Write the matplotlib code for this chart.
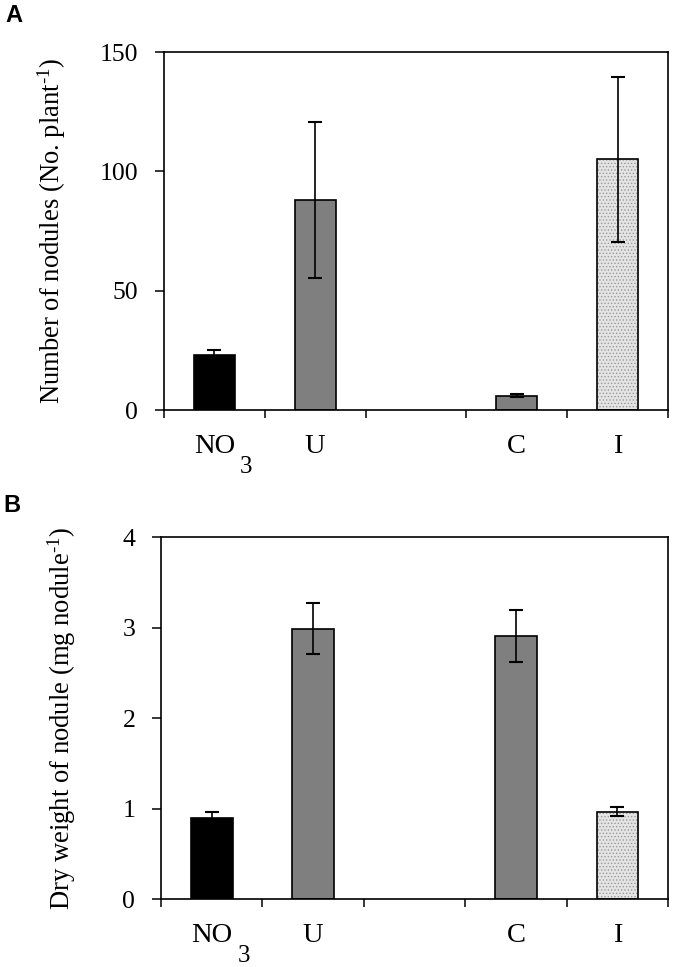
import numpy as np
import matplotlib.pyplot as plt

plt.rcParams['font.family'] = ['Liberation Serif', 'DejaVu Serif']
plt.rcParams['mathtext.fontset'] = 'custom'
plt.rcParams['mathtext.rm'] = 'Liberation Serif'
plt.rcParams['mathtext.it'] = 'Liberation Serif'
plt.rcParams['hatch.linewidth'] = 0.6

# categories (slot 3 is left empty in the original figure)
categories = ['NO', 'U', '', 'C', 'I']
subscripts = ['3', '', '', '', '']
bar_colors = ['#000000', '#7f7f7f', '#ffffff', '#7f7f7f', '#e4e4e4']

# panel A: number of nodules per plant
nodules = [23, 88, np.nan, 6, 105]
nodules_err = [2, 32.5, np.nan, 0.6, 34.5]

# panel B: dry weight of a nodule
weight = [0.90, 2.99, np.nan, 2.91, 0.97]
weight_err = [0.07, 0.28, np.nan, 0.29, 0.055]

fig = plt.figure(figsize=(6.74, 9.67), dpi=100)
axA = fig.add_axes([0.2433, 0.576, 0.7478, 0.3702])
axB = fig.add_axes([0.2389, 0.070, 0.7522, 0.3744])


def draw_panel(ax, vals, errs, ylim, yticks, ylabel, label_x):
    x = np.arange(len(categories))
    v = np.array(vals, dtype=float)
    e = np.array(errs, dtype=float)
    ok = ~np.isnan(v)
    xs, vs, es = x[ok], v[ok], e[ok]
    cols = [c for c, k in zip(bar_colors, ok) if k]
    # fill, the dotted one gets a grey dot hatch
    for xi, vi, ci in zip(xs, vs, cols):
        if ci == '#e4e4e4':
            ax.bar(xi, vi, width=0.41, color=ci, edgecolor='#9a9a9a',
                   hatch='.....', linewidth=0, zorder=2)
        else:
            ax.bar(xi, vi, width=0.41, color=ci, linewidth=0, zorder=2)
    # outlines
    ax.bar(xs, vs, width=0.41, fill=False, edgecolor='black', linewidth=1.2, zorder=3)
    ax.errorbar(xs, vs, yerr=es, fmt='none', ecolor='black', elinewidth=1.2,
                capsize=4.8, capthick=1.5, zorder=4)

    ax.set_xlim(-0.5, len(categories) - 0.5)
    ax.set_ylim(*ylim)
    ax.set_yticks(yticks)
    ax.tick_params(axis='y', direction='out', length=6.5, width=1.1, pad=12,
                   labelsize=18.5)
    # boundary ticks at the bottom, labels at category centres
    ax.set_xticks(np.arange(len(categories) + 1) - 0.5)
    ax.set_xticklabels([])
    ax.tick_params(axis='x', which='major', direction='out', length=6, width=1.1)
    ax.set_xticks(x, minor=True)
    ax.set_xticklabels(categories, minor=True, fontsize=20.5)
    ax.tick_params(axis='x', which='minor', length=0, pad=17)
    # the big, low "3" of NO3 as in the original
    for xi, sub in zip(x, subscripts):
        if sub:
            ax.annotate(sub, xy=(xi, 0), xycoords=('data', 'axes fraction'),
                        xytext=(18.5, -33), textcoords='offset points',
                        ha='left', va='top', fontsize=18, annotation_clip=False)
    for s in ax.spines.values():
        s.set_linewidth(1.2)
    ax.set_ylabel(ylabel, fontsize=19.2)
    ax.yaxis.set_label_coords(label_x, 0.5)


draw_panel(axA, nodules, nodules_err, (0, 150), [0, 50, 100, 150],
           r'Number of nodules (No. plant$^{\text{-1}}$)', -0.19)
draw_panel(axB, weight, weight_err, (0, 4), [0, 1, 2, 3, 4],
           r'Dry weight of nodule (mg nodule$^{\text{-1}}$)', -0.163)

fig.text(0.008, 0.996, 'A', fontsize=17, fontweight='bold',
         family='Liberation Sans', va='top', ha='left')
fig.text(0.005, 0.489, 'B', fontsize=17, fontweight='bold',
         family='Liberation Sans', va='top', ha='left')

fig.savefig('out.png', dpi=100)
plt.close(fig)
